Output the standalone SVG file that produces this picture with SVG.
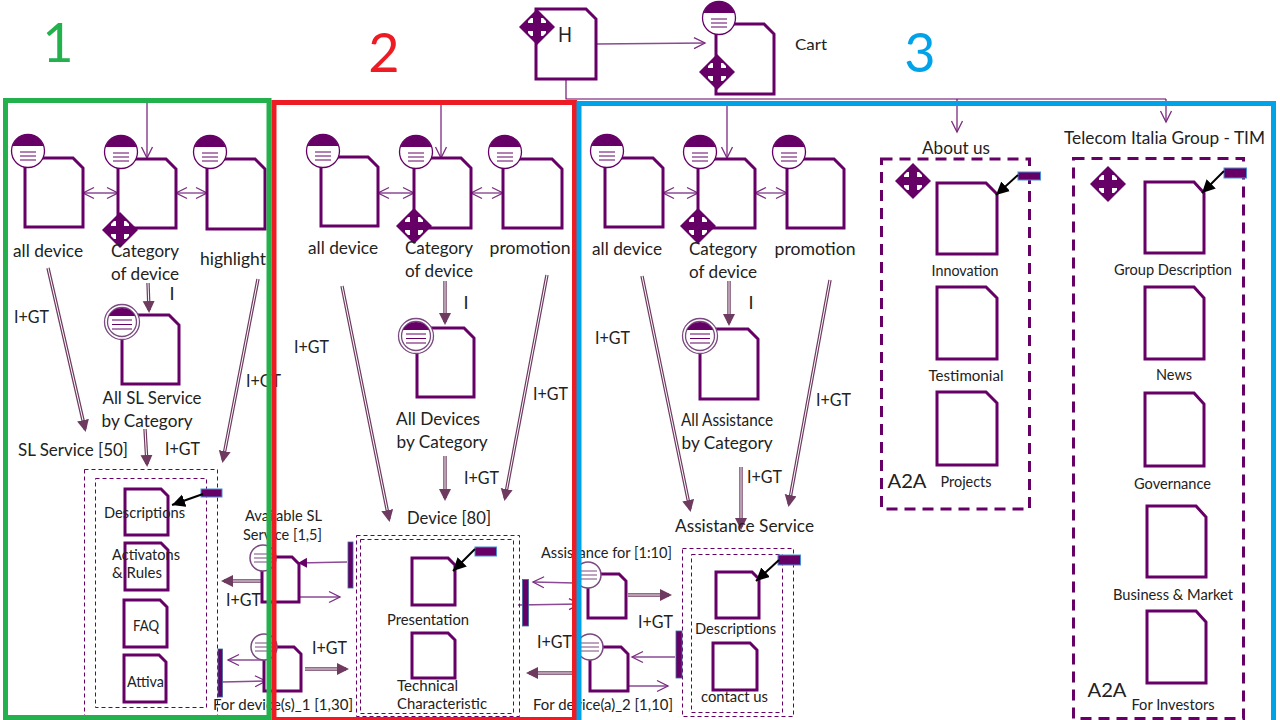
<svg xmlns="http://www.w3.org/2000/svg" width="1280" height="720" viewBox="0 0 1280 720">
<style>
text{font-family:Lato,"Noto Sans",sans-serif;font-size:18px;fill:#222;text-anchor:middle}
.s{font-size:15px}
.xs{font-size:14.500px}
.pg{fill:#fff;stroke:#660066;stroke-width:3}
.thin{fill:none;stroke:#8a4a94;stroke-width:1.4}
.line{fill:none;stroke:#660066;stroke-width:1.1}
.dk{fill:none;stroke:#6e3a60;stroke-width:3.400}
.wh{fill:none;stroke:#fff;stroke-width:1}
.blk{fill:none;stroke:#000;stroke-width:2}
.bar{fill:#660066;stroke:#3a6a9a;stroke-width:.8}
.tag{fill:#660066;stroke:#4a90d0;stroke-width:1}
.d1{fill:none;stroke:#660066;stroke-width:1;stroke-dasharray:4 3}
.d2{fill:none;stroke:#660066;stroke-width:3;stroke-dasharray:11 7}
.fr{fill:none;stroke-width:5}
.num{font-size:54px}
</style>
<defs>
<marker id="o" markerUnits="userSpaceOnUse" markerWidth="14" markerHeight="14" refX="12" refY="7" orient="auto-start-reverse"><path d="M1 1.500L12 7L1 12.500" fill="none" stroke="#7a2a80" stroke-width="1.300"/></marker>
<marker id="f" markerUnits="userSpaceOnUse" markerWidth="12" markerHeight="12" refX="9" refY="5" orient="auto"><path d="M0 0L9 5L0 10z" fill="#660066"/></marker>
<marker id="h" markerUnits="userSpaceOnUse" markerWidth="14" markerHeight="14" refX="9" refY="6" orient="auto"><path d="M0 0L12 6L0 12z" fill="#6e3a60"/></marker>
<marker id="b" markerUnits="userSpaceOnUse" markerWidth="16" markerHeight="14" refX="13" refY="6.500" orient="auto"><path d="M0 0L13 6.500L0 13z" fill="#000"/></marker>
<g id="menu"><circle r="16.500" fill="#fff" stroke="#660066" stroke-width="1.300"/><path d="M-15.700-5A16.500 16.500 0 0 1 15.700-5z" fill="#660066"/><path d="M-8 1h16M-8 5h16M-8 9h16" stroke="#660066" stroke-width="1" fill="none"/></g>
<g id="menu2"><circle r="17.500" fill="#fff" stroke="#7a4a80" stroke-width="1.300"/><circle r="14.500" fill="#fff" stroke="#7a4a80" stroke-width="1.300"/><path d="M-13-6A14.500 14.500 0 0 1 13-6z" fill="#660066"/><path d="M-10-2h20M-10 2.500h20M-10 7h20" stroke="#660066" stroke-width="1.100" fill="none"/></g>
<g id="menus"><circle r="13" fill="#fff" stroke="#7a4a80" stroke-width="1.500"/><path d="M-9-4h18M-9 0h18M-9 4h18" stroke="#7a4a80" stroke-width="1.200" fill="none"/></g>
<g id="move"><path d="M0-18L18 0L0 18L-18 0z" fill="#660066"/><path d="M-9-6l3-3h2v5h-5zM9-6l-3-3h-2v5h5zM-9 6l3 3h2v-5h-5zM9 6l-3 3h-2v-5h5z" fill="#fff"/></g>
</defs>
<rect width="1280" height="720" fill="#fff"/>

<g id="connectors">
<path class="thin" d="M596 44L705 43" marker-end="url(#o)"/>
<path class="line" d="M566 79V99H1166"/>
<path class="line" d="M957 99V132" marker-end="url(#o)"/>
<path class="line" d="M1166 99V122" marker-end="url(#o)"/>
<path class="line" d="M147 100V158" marker-end="url(#o)"/>
<path class="line" d="M441 102V158" marker-end="url(#o)"/>
<path class="line" d="M727 102V158" marker-end="url(#o)"/>
<path class="thin" d="M83 193H118" marker-start="url(#o)" marker-end="url(#o)"/>
<path class="thin" d="M176 193H207" marker-start="url(#o)" marker-end="url(#o)"/>
<path class="thin" d="M378 193H414" marker-start="url(#o)" marker-end="url(#o)"/>
<path class="thin" d="M471 193H503" marker-start="url(#o)" marker-end="url(#o)"/>
<path class="thin" d="M663 193H698" marker-start="url(#o)" marker-end="url(#o)"/>
<path class="thin" d="M755 193H787" marker-start="url(#o)" marker-end="url(#o)"/>

<path class="dk" d="M48 268L85 429"/><path class="wh" d="M48 268L85 429" marker-end="url(#h)"/>
<path class="dk" d="M148 283L149 310"/><path class="wh" d="M148 283L149 310" marker-end="url(#h)"/>
<path class="dk" d="M258 279L223 460"/><path class="wh" d="M258 279L223 460" marker-end="url(#h)"/>
<path class="dk" d="M145 429L147 464"/><path class="wh" d="M145 429L147 464" marker-end="url(#h)"/>
<path class="dk" d="M262 581L224 581"/><path class="wh" d="M262 581L224 581" marker-end="url(#h)"/>
<path class="dk" d="M305 669L346 669"/><path class="wh" d="M305 669L346 669" marker-end="url(#h)"/>

<path class="dk" d="M342 286L389 519"/><path class="wh" d="M342 286L389 519" marker-end="url(#h)"/>
<path class="dk" d="M445 281L445 322"/><path class="wh" d="M445 281L445 322" marker-end="url(#h)"/>
<path class="dk" d="M547 275L505 498"/><path class="wh" d="M547 275L505 498" marker-end="url(#h)"/>
<path class="dk" d="M445 456L445 498"/><path class="wh" d="M445 456L445 498" marker-end="url(#h)"/>
<path class="dk" d="M575 673L529 673"/><path class="wh" d="M575 673L529 673" marker-end="url(#h)"/>

<path class="dk" d="M642 276L690 509"/><path class="wh" d="M642 276L690 509" marker-end="url(#h)"/>
<path class="dk" d="M729 281L729 323"/><path class="wh" d="M729 281L729 323" marker-end="url(#h)"/>
<path class="dk" d="M830 280L789 504"/><path class="wh" d="M830 280L789 504" marker-end="url(#h)"/>
<path class="dk" d="M741 467L741 527"/><path class="wh" d="M741 467L741 527" marker-end="url(#h)"/>
<path class="dk" d="M628 595L669 595"/><path class="wh" d="M628 595L669 595" marker-end="url(#h)"/>

<path class="thin" d="M347 562L298 563" marker-end="url(#f)"/>
<path class="thin" d="M298 597H340" marker-end="url(#o)"/>
<path class="thin" d="M264 660H228" marker-end="url(#o)"/>
<path class="thin" d="M222 682L266 681" marker-end="url(#o)"/>
<path class="thin" d="M575 583L533 582" marker-end="url(#o)"/>
<path class="thin" d="M518 605L580 604" marker-end="url(#o)"/>
<path class="thin" d="M675 657H632" marker-end="url(#o)"/>
<path class="thin" d="M627 686H668" marker-end="url(#o)"/>
</g>

<g id="node-home"><path class="pg" d="M536 9h50l10 10v60H536z"/><use href="#move" x="537" y="27"/><text x="565" y="42" style="font-size:21px" textLength="14" lengthAdjust="spacingAndGlyphs">H</text></g>
<g id="node-cart"><path class="pg" d="M716 24h48l10 10v60H716z"/><use href="#menu" x="719" y="18"/><use href="#move" x="717" y="72"/><text x="811" y="50" style="font-size:16px" textLength="32" lengthAdjust="spacingAndGlyphs">Cart</text></g>

<g id="s1-all"><path class="pg" d="M25 158h48l10 10v59H25z"/><use href="#menu" x="28" y="151"/><text x="48" y="257" textLength="70" lengthAdjust="spacingAndGlyphs">all device</text></g>
<g id="s1-cat"><path class="pg" d="M118 159h48l10 10v59H118z"/><use href="#menu" x="121" y="152"/><use href="#move" x="120" y="230"/><text x="145" y="257" textLength="68" lengthAdjust="spacingAndGlyphs">Category</text><text x="145" y="280" textLength="68" lengthAdjust="spacingAndGlyphs">of device</text></g>
<g id="s1-high"><path class="pg" d="M207 159h48l10 10v60H207z"/><use href="#menu" x="210" y="152"/><text x="233" y="265" textLength="66" lengthAdjust="spacingAndGlyphs">highlight</text></g>
<g id="s1-allsl"><path class="pg" d="M122 315h47l10 10v59H122z"/><use href="#menu2" x="122" y="322"/><text x="152" y="404" textLength="99" lengthAdjust="spacingAndGlyphs">All SL Service</text><text x="147" y="427" textLength="91" lengthAdjust="spacingAndGlyphs">by Category</text></g>
<g id="s1-service">
<rect class="d1" x="84.500" y="469.500" width="133" height="247"/>
<rect class="d1" x="95.500" y="478.500" width="111" height="229"/>
<text x="73" y="456" textLength="110" lengthAdjust="spacingAndGlyphs">SL Service [50]</text>
<path class="pg" d="M125 489h36l7 7v39H125z"/><path class="pg" d="M125 543h36l7 7v40H125z"/><path class="pg" d="M124 600h36l7 7v40H124z"/><path class="pg" d="M124 655h35l7 7v40H124z"/>
<rect class="tag" x="201" y="489" width="21" height="8"/>
<path class="blk" d="M203 494L172 505" marker-end="url(#b)"/>
<text x="144.500" y="518" class="s" textLength="81" lengthAdjust="spacingAndGlyphs">Descriptions</text>
<text x="146" y="560" class="s" textLength="68" lengthAdjust="spacingAndGlyphs">Activatons</text>
<text x="137" y="578" class="s" textLength="50" lengthAdjust="spacingAndGlyphs">&amp; Rules</text>
<text x="146" y="631" class="s" textLength="26" lengthAdjust="spacingAndGlyphs">FAQ</text>
<text x="145.500" y="687" class="s" textLength="37" lengthAdjust="spacingAndGlyphs">Attiva</text>
<rect class="bar" x="218" y="649" width="4.500" height="48"/>
</g>
<g id="s1-avail"><path class="pg" d="M262 557h30l7 7v38H262z"/><use href="#menus" x="263" y="558"/><rect class="bar" x="348" y="542" width="5" height="46"/><text x="283.500" y="521" class="s" textLength="77" lengthAdjust="spacingAndGlyphs">Available SL</text><text x="282.500" y="540" class="s" textLength="79" lengthAdjust="spacingAndGlyphs">Service [1,5]</text></g>
<g id="s1-dev"><path class="pg" d="M264 647h30l7 7v37H264z"/><use href="#menus" x="264" y="647"/><text x="283" y="710" class="s" textLength="140" lengthAdjust="spacingAndGlyphs">For device(s)_1 [1,30]</text></g>

<g id="s2-all"><path class="pg" d="M321 157h47l10 10v59H321z"/><use href="#menu" x="323" y="151"/><text x="343" y="254" textLength="70" lengthAdjust="spacingAndGlyphs">all device</text></g>
<g id="s2-cat"><path class="pg" d="M414 158h47l10 10v60H414z"/><use href="#menu" x="416" y="152"/><use href="#move" x="414" y="226"/><text x="439" y="254" textLength="68" lengthAdjust="spacingAndGlyphs">Category</text><text x="439" y="277" textLength="68" lengthAdjust="spacingAndGlyphs">of device</text></g>
<g id="s2-promo"><path class="pg" d="M503 159h49l10 10v59H503z"/><use href="#menu" x="505" y="152"/><text x="530" y="254" textLength="81" lengthAdjust="spacingAndGlyphs">promotion</text></g>
<g id="s2-allD"><path class="pg" d="M417 328h47l10 10v59H417z"/><use href="#menu2" x="416" y="336"/><text x="438" y="425" textLength="84" lengthAdjust="spacingAndGlyphs">All Devices</text><text x="442" y="448" textLength="91" lengthAdjust="spacingAndGlyphs">by Category</text></g>
<g id="s2-device">
<text x="449" y="524" textLength="84" lengthAdjust="spacingAndGlyphs">Device [80]</text>
<rect class="d1" x="356.500" y="535.500" width="163" height="181"/>
<rect class="d1" x="360.500" y="539.500" width="153" height="174"/>
<path class="pg" d="M412 558h36l7 7v40H412z"/><path class="pg" d="M412 633h36l7 7v38H412z"/>
<rect class="tag" x="475" y="547" width="21.500" height="9"/>
<path class="blk" d="M475 549L453 571" marker-end="url(#b)"/>
<text x="428" y="625" class="s" textLength="82" lengthAdjust="spacingAndGlyphs">Presentation</text>
<text x="427.500" y="691" class="s" textLength="61" lengthAdjust="spacingAndGlyphs">Technical</text>
<text x="442" y="709" class="s" textLength="90" lengthAdjust="spacingAndGlyphs">Characteristic</text>
<rect class="bar" x="522.500" y="579.500" width="6" height="46.500"/>
</g>

<g id="s3-all"><path class="pg" d="M605 158h48l10 10v59H605z"/><use href="#menu" x="607" y="151"/><text x="627" y="255" textLength="70" lengthAdjust="spacingAndGlyphs">all device</text></g>
<g id="s3-cat"><path class="pg" d="M698 159h47l10 10v59H698z"/><use href="#menu" x="700" y="152"/><use href="#move" x="698" y="226"/><text x="723" y="255" textLength="68" lengthAdjust="spacingAndGlyphs">Category</text><text x="723" y="278" textLength="68" lengthAdjust="spacingAndGlyphs">of device</text></g>
<g id="s3-promo"><path class="pg" d="M787 159h47l10 10v59H787z"/><use href="#menu" x="789" y="152"/><text x="815" y="255" textLength="81" lengthAdjust="spacingAndGlyphs">promotion</text></g>
<g id="s3-allA"><path class="pg" d="M700 329h48l10 10v60H700z"/><use href="#menu2" x="700" y="336"/><text x="727" y="426" textLength="92" lengthAdjust="spacingAndGlyphs">All Assistance</text><text x="727" y="449" textLength="91" lengthAdjust="spacingAndGlyphs">by Category</text></g>
<g id="s3-service">
<text x="744.500" y="532" textLength="139" lengthAdjust="spacingAndGlyphs">Assistance Service</text>
<rect class="d1" x="682.500" y="548.500" width="111" height="168"/>
<rect class="d1" x="691.500" y="554.500" width="91" height="158"/>
<path class="pg" d="M716 572h36l7 7v39H716z"/><path class="pg" d="M713 643h37l7 7v40H713z"/>
<rect class="tag" x="778" y="555" width="22.500" height="10"/>
<path class="blk" d="M779 560L756 581" marker-end="url(#b)"/>
<text x="735.500" y="634" class="s" textLength="81" lengthAdjust="spacingAndGlyphs">Descriptions</text>
<text x="734.500" y="702" class="s" textLength="67" lengthAdjust="spacingAndGlyphs">contact us</text>
<rect class="bar" x="676" y="631" width="6" height="47"/>
</g>
<g id="s3-assist"><path class="pg" d="M588 574h31l7 7v37H588z"/><use href="#menus" x="588" y="575"/><text x="606.500" y="558" class="s" textLength="131" lengthAdjust="spacingAndGlyphs">Assistance for [1:10]</text></g>
<g id="s3-dev"><path class="pg" d="M590 647h31l7 7v37H590z"/><use href="#menus" x="590" y="647"/><text x="603" y="710" class="s" textLength="140" lengthAdjust="spacingAndGlyphs">For device(a)_2 [1,10]</text></g>

<g id="about">
<text x="956" y="154" textLength="68" lengthAdjust="spacingAndGlyphs">About us</text>
<rect class="d2" x="881.500" y="159" width="148" height="350"/>
<use href="#move" x="913" y="181"/>
<path class="pg" d="M937 183h49l11 11v60H937z"/><path class="pg" d="M937 287h49l11 11v61H937z"/><path class="pg" d="M937 392h49l11 11v62H937z"/>
<rect class="tag" x="1018" y="172" width="22.500" height="8"/>
<path class="blk" d="M1018 175L996 195" marker-end="url(#b)"/>
<text x="965" y="276" class="xs" textLength="67" lengthAdjust="spacingAndGlyphs">Innovation</text><text x="966" y="381" class="xs" textLength="75" lengthAdjust="spacingAndGlyphs">Testimonial</text><text x="966" y="487" class="xs" textLength="51" lengthAdjust="spacingAndGlyphs">Projects</text>
<text x="907" y="488" style="font-size:20px" textLength="39" lengthAdjust="spacingAndGlyphs">A2A</text>
</g>
<g id="telecom">
<text x="1164.500" y="144" textLength="201" lengthAdjust="spacingAndGlyphs">Telecom Italia Group - TIM</text>
<rect class="d2" x="1073.500" y="158.500" width="170" height="560"/>
<use href="#move" x="1108" y="184"/>
<path class="pg" d="M1145 182h49l10 11v60H1145z"/><path class="pg" d="M1145 287h49l10 11v61H1145z"/><path class="pg" d="M1145 393h49l10 11v62H1145z"/><path class="pg" d="M1147 506h49l10 11v60H1147z"/><path class="pg" d="M1147 611h49l10 11v61H1147z"/>
<rect class="tag" x="1224" y="168" width="22.500" height="10"/>
<path class="blk" d="M1224 171L1202 193" marker-end="url(#b)"/>
<text x="1173" y="275" class="xs" textLength="118" lengthAdjust="spacingAndGlyphs">Group Description</text><text x="1174" y="380" class="xs" textLength="36" lengthAdjust="spacingAndGlyphs">News</text><text x="1172.500" y="489" class="xs" textLength="77" lengthAdjust="spacingAndGlyphs">Governance</text><text x="1173" y="600" class="xs" textLength="120" lengthAdjust="spacingAndGlyphs">Business &amp; Market</text><text x="1173" y="710" class="xs" textLength="83" lengthAdjust="spacingAndGlyphs">For Investors</text>
<text x="1107" y="697" style="font-size:20px" textLength="39" lengthAdjust="spacingAndGlyphs">A2A</text>
</g>

<g id="labels">
<text x="31.500" y="323" textLength="35" lengthAdjust="spacingAndGlyphs">I+GT</text>
<text x="263.500" y="387" textLength="35" lengthAdjust="spacingAndGlyphs">I+GT</text>
<text x="182.500" y="455" textLength="35" lengthAdjust="spacingAndGlyphs">I+GT</text>
<text x="243.500" y="606" textLength="35" lengthAdjust="spacingAndGlyphs">I+GT</text>
<text x="329.500" y="654" textLength="35" lengthAdjust="spacingAndGlyphs">I+GT</text>
<text x="311.500" y="353" textLength="35" lengthAdjust="spacingAndGlyphs">I+GT</text>
<text x="550.500" y="400" textLength="35" lengthAdjust="spacingAndGlyphs">I+GT</text>
<text x="481.500" y="484" textLength="35" lengthAdjust="spacingAndGlyphs">I+GT</text>
<text x="554.500" y="648" textLength="35" lengthAdjust="spacingAndGlyphs">I+GT</text>
<text x="612.500" y="344" textLength="35" lengthAdjust="spacingAndGlyphs">I+GT</text>
<text x="833.500" y="406" textLength="35" lengthAdjust="spacingAndGlyphs">I+GT</text>
<text x="764.500" y="483" textLength="35" lengthAdjust="spacingAndGlyphs">I+GT</text>
<text x="655.500" y="628" textLength="35" lengthAdjust="spacingAndGlyphs">I+GT</text>
<text x="172" y="300">I</text><text x="466" y="309">I</text><text x="751" y="309">I</text>
</g>

<g id="frames">
<rect class="fr" x="5.500" y="100.500" width="263.500" height="617" stroke="#22b14c"/>
<rect class="fr" x="274" y="102.500" width="300.500" height="617" stroke="#ed1c24"/>
<rect class="fr" x="579" y="103.500" width="694.500" height="620" stroke="#00a2e8"/>
<text class="num" x="58" y="62" style="fill:#22b14c">1</text>
<text class="num" x="384" y="72" style="fill:#ed1c24">2</text>
<text class="num" x="920" y="72" style="fill:#00a2e8">3</text>
</g>
</svg>
